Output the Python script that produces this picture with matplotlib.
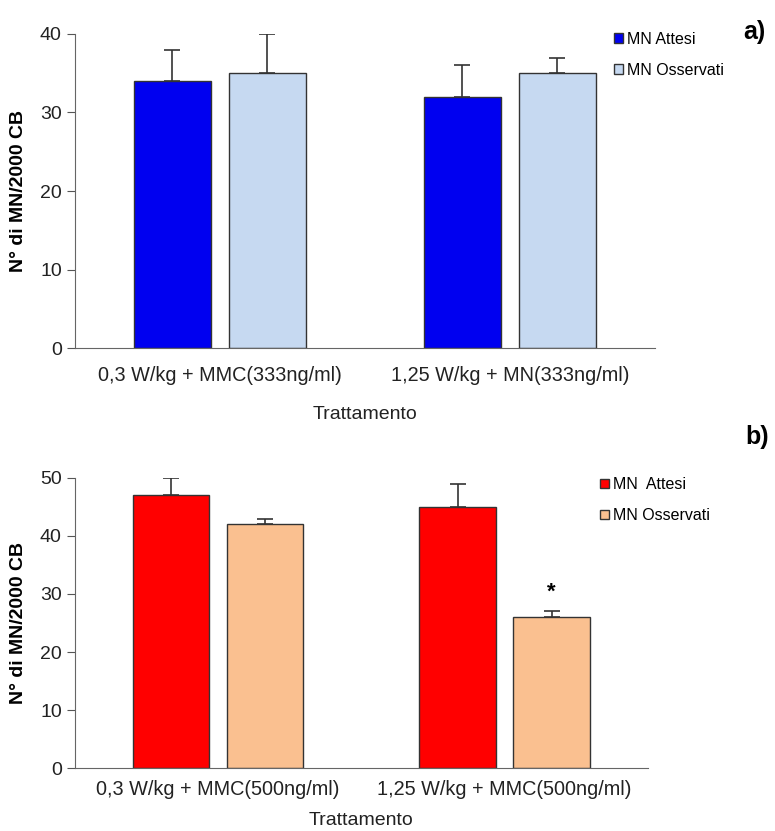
import matplotlib.pyplot as plt
import numpy as np

plt.rcParams['font.family'] = ['Liberation Sans', 'DejaVu Sans']

# panel a
cat_a = ["0,3 W/kg + MMC(333ng/ml)", "1,25 W/kg + MN(333ng/ml)"]
attesi_a = [34, 32]
attesi_a_err = [4, 4]
osserv_a = [35, 35]
osserv_a_err = [5, 2]

# panel b
cat_b = ["0,3 W/kg + MMC(500ng/ml)", "1,25 W/kg + MMC(500ng/ml)"]
attesi_b = [47, 45]
attesi_b_err = [3, 4]
osserv_b = [42, 26]
osserv_b_err = [1, 1]
signif_b = ["", "*"]


def draw_panel(ax, cats, v1, e1, v2, e2, c1, c2, lab1, lab2, ymax, step,
               tpad, lpad, ylab_x):
    x = np.arange(len(cats))
    w = 0.267
    off = 0.164
    ekw = dict(ecolor='#333333', elinewidth=1.2, capsize=6, capthick=1.2, zorder=1)
    ax.bar(x - off, v1, w, color=c1, edgecolor='#333333', linewidth=1,
           yerr=[np.zeros(len(e1)), e1], error_kw=ekw, label=lab1, zorder=2)
    ax.bar(x + off, v2, w, color=c2, edgecolor='#333333', linewidth=1,
           yerr=[np.zeros(len(e2)), e2], error_kw=ekw, label=lab2, zorder=2)
    ax.set_xlim(-0.5, 1.5)
    ax.set_ylim(0, ymax)
    ax.set_yticks(np.arange(0, ymax + 1, step))
    ax.set_xticks(x)
    ax.set_xticklabels(cats, fontsize=14.3, color='#222222')
    ax.tick_params(axis='x', length=0, pad=tpad)
    ax.tick_params(axis='y', length=6, color='#555555', labelsize=14,
                   labelcolor='#222222')
    for s in ['top', 'right']:
        ax.spines[s].set_visible(False)
    for s in ['left', 'bottom']:
        ax.spines[s].set_color('#666666')
    ax.set_ylabel("N° di MN/2000 CB", fontsize=14, fontweight='bold')
    ax.yaxis.set_label_coords(ylab_x, 0.5)
    ax.set_xlabel("Trattamento", fontsize=14, labelpad=lpad, color='#222222')
    return x, off


fig = plt.figure(figsize=(7.75, 8.31), dpi=100)

ax1 = fig.add_axes([0.0968, 0.5812, 0.748, 0.3779])
draw_panel(ax1, cat_a, attesi_a, attesi_a_err, osserv_a, osserv_a_err,
           '#0000F0', '#C6D9F1', "MN Attesi", "MN Osservati", 40, 10,
           13, 15, -0.083)
ax1.legend(loc='upper left', bbox_to_anchor=(0.792, 0.962),
           bbox_transform=fig.transFigure, frameon=False, borderpad=0,
           borderaxespad=0, fontsize=11.5, handlelength=0.55, handleheight=0.55,
           handletextpad=0.3, labelspacing=1.0)
fig.text(0.974, 0.9615, "a)", fontsize=18, fontweight='bold', ha='center', va='center')

ax2 = fig.add_axes([0.0968, 0.0758, 0.739, 0.349])
x, off = draw_panel(ax2, cat_b, attesi_b, attesi_b_err, osserv_b, osserv_b_err,
                    '#FF0000', '#FAC090', "MN  Attesi", "MN Osservati", 50, 10,
                    8.5, 9.5, -0.084)
ax2.legend(loc='upper left', bbox_to_anchor=(0.774, 0.426),
           bbox_transform=fig.transFigure, frameon=False, borderpad=0,
           borderaxespad=0, fontsize=11.5, handlelength=0.55, handleheight=0.55,
           handletextpad=0.3, labelspacing=1.0)
for i, s in enumerate(signif_b):
    if s:
        ax2.text(x[i] + off, osserv_b[i] + osserv_b_err[i] + 1.5, s,
                 ha='center', va='bottom', fontsize=16, fontweight='bold')
fig.text(0.977, 0.4745, "b)", fontsize=18, fontweight='bold', ha='center', va='center')

fig.savefig("out.png", dpi=100)
